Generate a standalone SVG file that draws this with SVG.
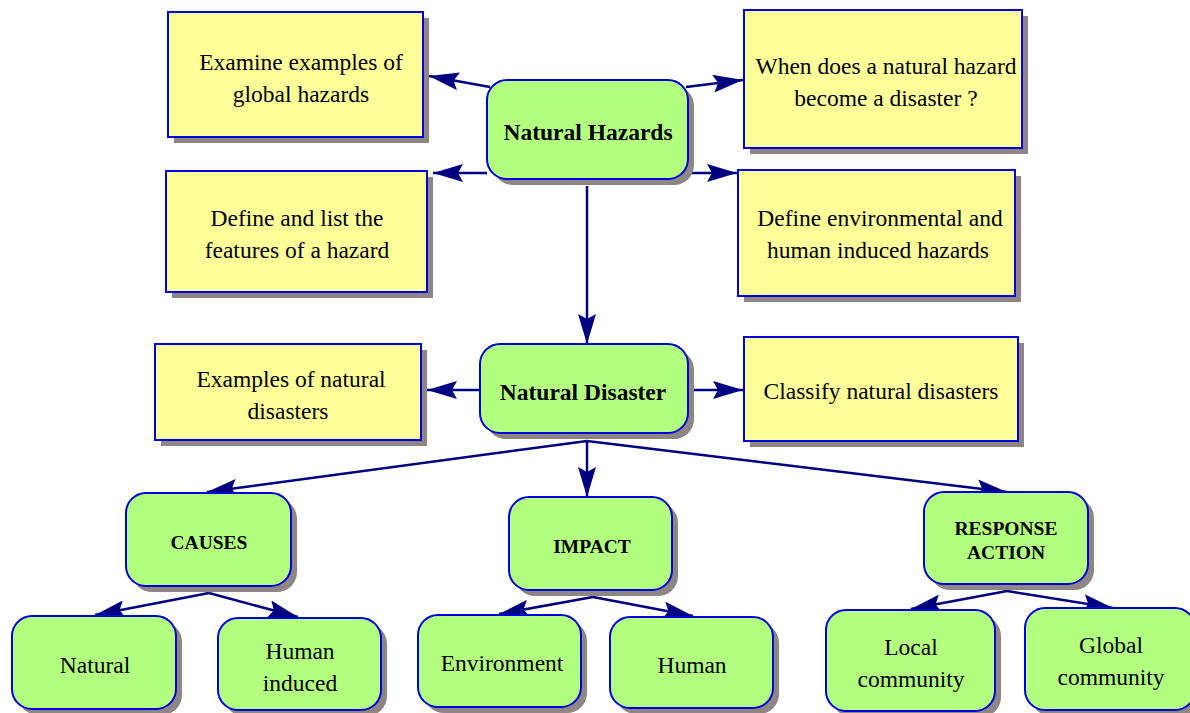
<svg xmlns="http://www.w3.org/2000/svg" width="1190" height="713" viewBox="0 0 1190 713">
<style>
.sh{fill:#8f8585}
.yb{fill:#ffff99;stroke:#0000dd;stroke-width:2}
.gb{fill:#b3ff80;stroke:#0000dd;stroke-width:2}
.t{font-family:"Liberation Serif","Times New Roman",serif;font-size:23.5px;fill:#000;text-anchor:middle}
.b{font-weight:bold}
.s{font-size:19.5px}
.c{stroke:#000080;stroke-width:2.5;fill:none}
</style>
<defs>
<marker id="ah" markerUnits="userSpaceOnUse" markerWidth="32" markerHeight="18" refX="30" refY="9" orient="auto">
<path d="M0,0 L30,9 L0,18 L5,9 Z" fill="#000080"/>
</marker>
</defs>
<rect width="1190" height="713" fill="#fff"/>
<g id="connectors">
<line class="c" x1="490" y1="87" x2="429" y2="76" marker-end="url(#ah)"/>
<line class="c" x1="686" y1="87" x2="743" y2="80" marker-end="url(#ah)"/>
<line class="c" x1="487" y1="173" x2="433" y2="173" marker-end="url(#ah)"/>
<line class="c" x1="688" y1="173" x2="737" y2="173" marker-end="url(#ah)"/>
<line class="c" x1="587" y1="186" x2="587" y2="344" marker-end="url(#ah)"/>
<line class="c" x1="480" y1="390" x2="427" y2="390" marker-end="url(#ah)"/>
<line class="c" x1="694" y1="390" x2="743" y2="390" marker-end="url(#ah)"/>
<line class="c" x1="587" y1="441" x2="207" y2="492" marker-end="url(#ah)"/>
<line class="c" x1="587" y1="441" x2="587" y2="497" marker-end="url(#ah)"/>
<line class="c" x1="587" y1="441" x2="1007" y2="492" marker-end="url(#ah)"/>
<line class="c" x1="209" y1="593" x2="95" y2="615" marker-end="url(#ah)"/>
<line class="c" x1="209" y1="593" x2="298" y2="617" marker-end="url(#ah)"/>
<line class="c" x1="593" y1="597" x2="499" y2="614" marker-end="url(#ah)"/>
<line class="c" x1="593" y1="597" x2="693" y2="616" marker-end="url(#ah)"/>
<line class="c" x1="1007" y1="591" x2="911" y2="609" marker-end="url(#ah)"/>
<line class="c" x1="1007" y1="591" x2="1113" y2="608" marker-end="url(#ah)"/>
</g>
<g id="examine">
<rect class="sh" x="174" y="18" width="255" height="125"/>
<rect class="yb" x="168" y="12" width="255" height="125"/>
<text class="t" x="301" y="70">Examine examples of</text>
<text class="t" x="301" y="102">global hazards</text>
</g>
<g id="whendoes">
<rect class="sh" x="750" y="16" width="278" height="138"/>
<rect class="yb" x="744" y="10" width="278" height="138"/>
<text class="t" x="886" y="74">When does a natural hazard</text>
<text class="t" x="886" y="106">become a disaster ?</text>
</g>
<g id="definelist">
<rect class="sh" x="172" y="177" width="261" height="121"/>
<rect class="yb" x="166" y="171" width="261" height="121"/>
<text class="t" x="297" y="226">Define and list the</text>
<text class="t" x="297" y="258">features of a hazard</text>
</g>
<g id="defineenv">
<rect class="sh" x="744" y="176" width="277" height="126"/>
<rect class="yb" x="738" y="170" width="277" height="126"/>
<text class="t" x="880" y="226">Define environmental and</text>
<text class="t" x="878" y="258">human induced hazards</text>
</g>
<g id="examples">
<rect class="sh" x="161" y="350" width="266" height="96"/>
<rect class="yb" x="155" y="344" width="266" height="96"/>
<text class="t" x="291" y="387">Examples of natural</text>
<text class="t" x="288" y="419">disasters</text>
</g>
<g id="classify">
<rect class="sh" x="750" y="343" width="274" height="104"/>
<rect class="yb" x="744" y="337" width="274" height="104"/>
<text class="t" x="881" y="399">Classify natural disasters</text>
</g>
<g id="naturalhazards">
<rect class="sh" x="493" y="86" width="201" height="99" rx="20"/>
<rect class="gb" x="487" y="80" width="201" height="99" rx="20"/>
<text class="t b" x="588" y="140">Natural Hazards</text>
</g>
<g id="naturaldisaster">
<rect class="sh" x="486" y="350" width="208" height="89" rx="20"/>
<rect class="gb" x="480" y="344" width="208" height="89" rx="20"/>
<text class="t b" x="583" y="400">Natural Disaster</text>
</g>
<g id="causes">
<rect class="sh" x="132" y="499" width="165" height="93" rx="20"/>
<rect class="gb" x="126" y="493" width="165" height="93" rx="20"/>
<text class="t b s" x="209" y="549">CAUSES</text>
</g>
<g id="impact">
<rect class="sh" x="515" y="503" width="163" height="93" rx="20"/>
<rect class="gb" x="509" y="497" width="163" height="93" rx="20"/>
<text class="t b s" x="592" y="553">IMPACT</text>
</g>
<g id="response">
<rect class="sh" x="930" y="498" width="164" height="92" rx="20"/>
<rect class="gb" x="924" y="492" width="164" height="92" rx="20"/>
<text class="t b s" x="1006" y="535">RESPONSE</text>
<text class="t b s" x="1006" y="559">ACTION</text>
</g>
<g id="natural">
<rect class="sh" x="18" y="622" width="164" height="93" rx="20"/>
<rect class="gb" x="12" y="616" width="164" height="93" rx="20"/>
<text class="t" x="95" y="673">Natural</text>
</g>
<g id="humaninduced">
<rect class="sh" x="224" y="624" width="163" height="92" rx="20"/>
<rect class="gb" x="218" y="618" width="163" height="92" rx="20"/>
<text class="t" x="300" y="659">Human</text>
<text class="t" x="300" y="691">induced</text>
</g>
<g id="environment">
<rect class="sh" x="424" y="621" width="163" height="92" rx="20"/>
<rect class="gb" x="418" y="615" width="163" height="92" rx="20"/>
<text class="t" x="502" y="671">Environment</text>
</g>
<g id="human">
<rect class="sh" x="616" y="623" width="163" height="91" rx="20"/>
<rect class="gb" x="610" y="617" width="163" height="91" rx="20"/>
<text class="t" x="692" y="673">Human</text>
</g>
<g id="local">
<rect class="sh" x="832" y="616" width="169" height="101" rx="20"/>
<rect class="gb" x="826" y="610" width="169" height="101" rx="20"/>
<text class="t" x="911" y="655">Local</text>
<text class="t" x="911" y="687">community</text>
</g>
<g id="global">
<rect class="sh" x="1031" y="614" width="170" height="102" rx="20"/>
<rect class="gb" x="1025" y="608" width="170" height="102" rx="20"/>
<text class="t" x="1111" y="653">Global</text>
<text class="t" x="1111" y="685">community</text>
</g>
</svg>
